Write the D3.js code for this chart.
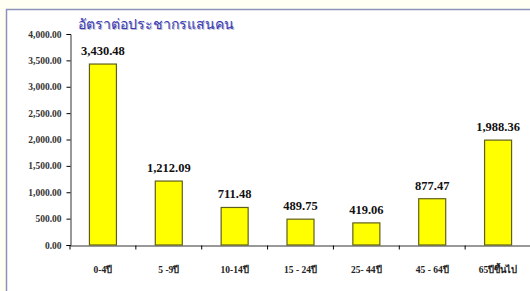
<!DOCTYPE html>
<html>
<head>
<meta charset="utf-8">
<script src="https://cdn.jsdelivr.net/npm/d3@7"></script>
<style>
  body { margin: 0; background: #fffff4; }
  svg { display: block; }
</style>
</head>
<body>
<div id="chart"></div>
<script>
// age groups and rate per 100,000 population
const categories = ["0-4ปี", "5 -9ปี", "10-14ปี", "15 - 24ปี", "25- 44ปี", "45 - 64ปี", "65ปีขึ้นไป"];
const values = [3430.48, 1212.09, 711.48, 489.75, 419.06, 877.47, 1988.36];
const yTicks = [0, 500, 1000, 1500, 2000, 2500, 3000, 3500, 4000];
const title = "อัตราต่อประชากรแสนคน";

var width = 530, height = 291;

var svg = d3.select('#chart')
  .append('svg')
  .attr('width', width)
  .attr('height', height);

// outer frame
svg.append('rect')
  .attr('x', 6.5).attr('y', 9.5)
  .attr('width', width).attr('height', height)
  .attr('fill', '#fff')
  .attr('stroke', '#8d93b8')
  .attr('stroke-width', 1.5);

var x = d3.scaleBand()
  .domain(categories)
  .range([70, 531])
  .paddingInner(0.59)
  .paddingOuter(0.295);

var y = d3.scaleLinear()
  .domain([0, 4000])
  .range([245, 34]);

// y axis
var yAxis = svg.append('g')
  .attr('transform', 'translate(70.5,0)')
  .call(d3.axisLeft(y).tickValues(yTicks).tickSize(4).tickPadding(5).tickFormat(d3.format(',.2f')));

// x axis
var xAxis = svg.append('g')
  .attr('transform', 'translate(0,245.5)')
  .call(d3.axisBottom(x).tickSize(0).tickFormat(''));

var step = x.step();
xAxis.selectAll('.xt')
  .data(d3.range(categories.length + 1))
  .enter()
  .append('line')
  .attr('class', 'xt')
  .attr('x1', i => 70 + i * step)
  .attr('x2', i => 70 + i * step)
  .attr('y1', 0).attr('y2', 4)
  .attr('stroke', '#000');

svg.selectAll('.domain').attr('stroke', '#333');
yAxis.selectAll('text')
  .attr('font-family', 'Liberation Serif, serif')
  .attr('font-size', 9.5)
  .attr('font-weight', 'bold')
  .attr('fill', '#333');

// bars
svg.selectAll('.bar')
  .data(values)
  .enter()
  .append('rect')
  .attr('class', 'bar')
  .attr('x', (d, i) => x(categories[i]))
  .attr('y', d => y(d))
  .attr('width', x.bandwidth())
  .attr('height', d => 245 - y(d))
  .attr('fill', '#ffff00')
  .attr('stroke', '#5f5f1a')
  .attr('stroke-width', 1.2);

// value labels
svg.selectAll('.val')
  .data(values)
  .enter()
  .append('text')
  .attr('class', 'val')
  .attr('x', (d, i) => x(categories[i]) + x.bandwidth() / 2)
  .attr('y', d => y(d) - 9)
  .attr('text-anchor', 'middle')
  .attr('font-family', 'Liberation Serif, serif')
  .attr('font-size', 12.5)
  .attr('font-weight', 'bold')
  .attr('fill', '#111')
  .text(d => d3.format(',.2f')(d));

// category labels
svg.selectAll('.cat')
  .data(categories)
  .enter()
  .append('text')
  .attr('class', 'cat')
  .attr('x', d => x(d) + x.bandwidth() / 2)
  .attr('y', 273)
  .attr('text-anchor', 'middle')
  .attr('font-family', 'Liberation Serif, Noto Sans, serif')
  .attr('font-size', 9.5)
  .attr('font-weight', 'bold')
  .attr('fill', '#222')
  .text(d => d);

// title with soft shadow
svg.append('text')
  .attr('x', 79).attr('y', 30)
  .attr('font-family', 'Noto Sans, sans-serif')
  .attr('font-size', 14)
  .attr('fill', '#bbbbcc')
  .text(title);
svg.append('text')
  .attr('x', 78).attr('y', 29)
  .attr('font-family', 'Noto Sans, sans-serif')
  .attr('font-size', 14)
  .attr('fill', '#3a3ab8')
  .text(title);
</script>
</body>
</html>
